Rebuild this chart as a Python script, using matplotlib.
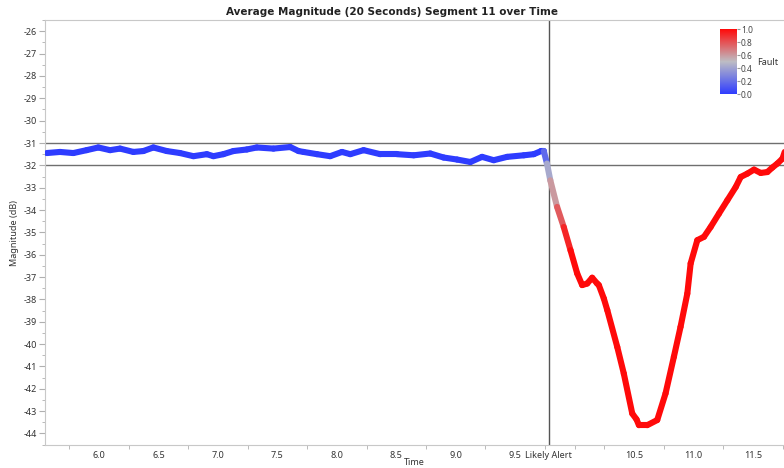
import numpy as np
import matplotlib
matplotlib.use('Agg')
from matplotlib import pyplot as plt
from matplotlib.collections import LineCollection
from matplotlib.colors import LinearSegmentedColormap, Normalize
from matplotlib.ticker import MultipleLocator, FixedLocator

plt.rcParams['font.family'] = ['Noto Sans', 'DejaVu Sans']
plt.rcParams['axes.unicode_minus'] = False

# Average magnitude per time step, with fault probability used for colouring
time = [5.560, 5.672, 5.784, 5.896, 5.994, 6.093, 6.177, 6.289, 6.373, 6.457,
        6.570, 6.682, 6.794, 6.907, 6.962, 7.046, 7.130, 7.243, 7.327, 7.467,
        7.608, 7.678, 7.720, 7.833, 7.944, 8.043, 8.113, 8.225, 8.365, 8.506,
        8.646, 8.786, 8.898, 9.011, 9.123, 9.221, 9.319, 9.432, 9.572, 9.656,
        9.718, 9.740, 9.767, 9.795, 9.852, 9.908, 9.965, 10.021, 10.063, 10.105,
        10.147, 10.189, 10.203, 10.245, 10.274, 10.358, 10.413, 10.484, 10.520, 10.540,
        10.610, 10.694, 10.764, 10.834, 10.890, 10.947, 10.975, 11.031, 11.087, 11.143,
        11.213, 11.284, 11.354, 11.396, 11.452, 11.508, 11.564, 11.620, 11.662, 11.704,
        11.747, 11.766]
magnitude = [-31.45, -31.40, -31.45, -31.32, -31.20, -31.32, -31.25, -31.40, -31.36, -31.20,
             -31.36, -31.45, -31.59, -31.50, -31.59, -31.50, -31.36, -31.29, -31.20, -31.25,
             -31.18, -31.36, -31.40, -31.50, -31.59, -31.40, -31.50, -31.32, -31.50, -31.50,
             -31.55, -31.47, -31.65, -31.74, -31.85, -31.62, -31.77, -31.62, -31.55, -31.50,
             -31.36, -31.36, -31.92, -32.67, -33.86, -34.76, -35.80, -36.84, -37.36, -37.29,
             -37.03, -37.29, -37.36, -37.96, -38.48, -40.13, -41.32, -43.11, -43.37, -43.63,
             -43.63, -43.40, -42.21, -40.57, -39.23, -37.74, -36.39, -35.35, -35.20, -34.76,
             -34.16, -33.56, -32.97, -32.52, -32.37, -32.19, -32.34, -32.30, -32.10, -31.92,
             -31.70, -31.40]
fault = [0.0] * 42 + [0.35, 0.5, 0.7, 0.85, 1.0] + [1.0] * 35

alert_time = 9.78
band = [-31, -32]
x_major = [6.0, 6.5, 7.0, 7.5, 8.0, 8.5, 9.0, 9.5, alert_time, 10.5, 11.0, 11.5]
x_labels = ['6.0', '6.5', '7.0', '7.5', '8.0', '8.5', '9.0', '9.5', 'Likely Alert',
            '10.5', '11.0', '11.5']

cmap = LinearSegmentedColormap.from_list('fault', ['#2e3cff', '#bdbdc4', '#ff0a0a'])
norm = Normalize(0, 1)

fig = plt.figure(figsize=(7.84, 4.68), dpi=100)
ax = fig.add_axes([0.0574, 0.049, 0.9426, 0.908])

pts = np.column_stack([time, magnitude])
segs = np.stack([pts[:-1], pts[1:]], axis=1)
seg_fault = (np.array(fault[:-1]) + np.array(fault[1:])) / 2
lc = LineCollection(segs, cmap=cmap, norm=norm, linewidths=4.4, capstyle='round',
                    joinstyle='round', zorder=3)
lc.set_array(seg_fault)
ax.add_collection(lc)

for yv in band:
    ax.axhline(yv, color='#6f6f6f', lw=1.0, zorder=2)
ax.axvline(alert_time, color='#555555', lw=1.0, zorder=2)

ax.set_xlim(5.546, 11.76)
ax.set_ylim(-44.52, -25.5)

ax.xaxis.set_major_locator(FixedLocator(x_major))
ax.set_xticklabels(x_labels)
ax.xaxis.set_minor_locator(MultipleLocator(0.25))
ax.yaxis.set_major_locator(MultipleLocator(1))
ax.yaxis.set_minor_locator(MultipleLocator(0.5))
ax.tick_params(axis='x', which='major', length=0, pad=4, labelsize=6.5, labelcolor='#333333')
ax.tick_params(axis='x', which='minor', length=3, color='#b0b0b0')
ax.tick_params(axis='y', which='major', length=4, color='#b0b0b0', labelsize=6.5,
               labelcolor='#333333', pad=2)
ax.tick_params(axis='y', which='minor', length=2, color='#b0b0b0')

for side in ['left', 'bottom', 'top']:
    ax.spines[side].set_color('#c8c8c8')
ax.spines['right'].set_visible(False)

ax.set_xlabel('Time', fontsize=6.5, color='#333333', labelpad=-1)
ax.set_ylabel('Magnitude (dB)', fontsize=6.5, color='#333333', labelpad=3)
fig.text(0.5, 0.975, 'Average Magnitude (20 Seconds) Segment 11 over Time',
         ha='center', va='center', fontsize=7.5, fontweight='bold', color='#222222',
         family='DejaVu Sans')

# colour scale for the fault probability
cax = fig.add_axes([0.918, 0.799, 0.0217, 0.139])
sm = plt.cm.ScalarMappable(cmap=cmap, norm=norm)
cb = fig.colorbar(sm, cax=cax)
cb.set_ticks([0.0, 0.2, 0.4, 0.6, 0.8, 1.0])
cb.ax.tick_params(labelsize=6, length=2, color='#999999', labelcolor='#444444', pad=1)
cb.outline.set_visible(False)
fig.text(0.979, 0.867, 'Fault', fontsize=6.5, color='#333333', ha='center', va='center')

fig.savefig('out.png', dpi=100)
